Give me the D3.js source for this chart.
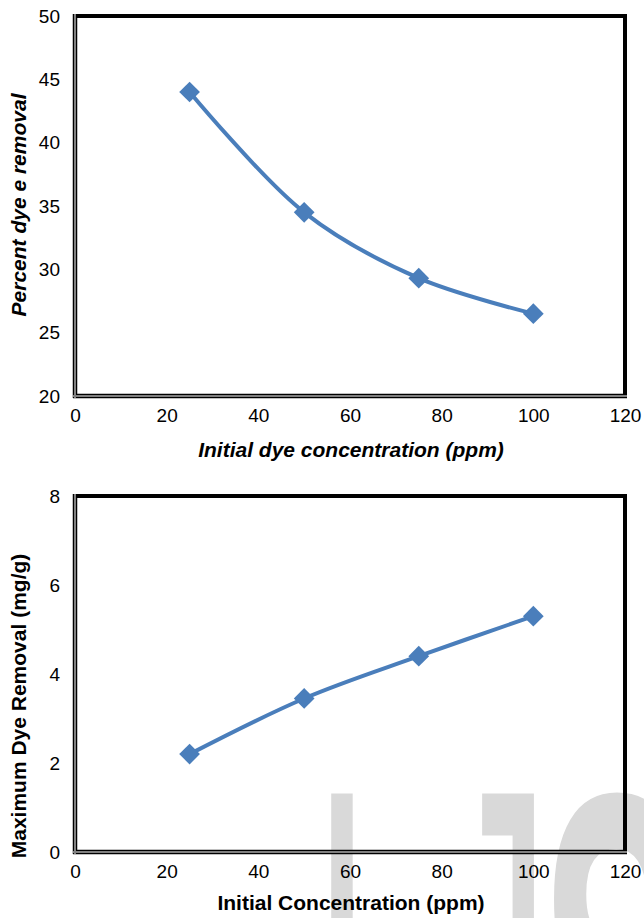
<!DOCTYPE html>
<html>
<head>
<meta charset="utf-8">
<script src="https://cdn.jsdelivr.net/npm/d3@7"></script>
<style>
  html, body { margin: 0; padding: 0; background: #fff; }
  svg { display: block; font-family: "Liberation Sans", Arial, sans-serif; }
</style>
</head>
<body>
<svg id="fig" width="644" height="918"></svg>
<script>
// Initial dye concentration (ppm)
const concentrations = [25, 50, 75, 100];
// Percent dye removal at each concentration
const percentRemoval = [44.0, 34.5, 29.3, 26.5];
// Maximum dye removal (mg/g) at each concentration
const maxRemoval = [2.2, 3.45, 4.4, 5.3];

const xTicks = [0, 20, 40, 60, 80, 100, 120];
const yTicksTop = [20, 25, 30, 35, 40, 45, 50];
const yTicksBottom = [0, 2, 4, 6, 8];

const svg = d3.select("#fig");
const BLUE = "#4a7ebb";

// Tall light-grey watermark letters behind the lower chart
const wm = svg.append("g").attr("fill", "#d9d9d9")
  .attr("font-family", "Liberation Sans, Arial, sans-serif")
  .attr("font-size", 230)
  .attr("transform", "translate(0,794) scale(1,2.4)");
wm.append("text").attr("x", 310).attr("y", 158).text("I");
wm.append("text").attr("x", 436).attr("y", 158).text("J");
wm.append("text").attr("x", 540).attr("y", 160).attr("font-weight", "bold").text("S");

function drawChart(opt) {
  const { left, right, top, bottom, xDomain, yDomain, yTicks, values,
          xTitle, yTitle, italic, yTitleCenter, xTitleGap } = opt;
  const x = d3.scaleLinear().domain(xDomain).range([left, right]);
  const y = d3.scaleLinear().domain(yDomain).range([bottom, top]);
  const g = svg.append("g");

  // Frame: heavy black top/right, shadowed left/bottom axes
  g.append("line").attr("x1", left - 2).attr("x2", right + 2)
    .attr("y1", top).attr("y2", top)
    .attr("stroke", "#000").attr("stroke-width", 4);
  g.append("line").attr("x1", right).attr("x2", right)
    .attr("y1", top - 2).attr("y2", bottom + 2)
    .attr("stroke", "#000").attr("stroke-width", 4);
  [["#000", 4.5], ["#808080", 2]].forEach(([c, w]) => {
    g.append("line").attr("x1", left).attr("x2", left)
      .attr("y1", top - 2).attr("y2", bottom + 2)
      .attr("stroke", c).attr("stroke-width", w);
    g.append("line").attr("x1", left - 2).attr("x2", right + 2)
      .attr("y1", bottom).attr("y2", bottom)
      .attr("stroke", c).attr("stroke-width", w);
  });

  // Axes (labels only, no tick marks)
  const xAxis = g.append("g").attr("transform", `translate(0,${bottom})`)
    .call(d3.axisBottom(x).tickValues(xTicks).tickSize(0).tickPadding(13));
  xAxis.select(".domain").remove();
  xAxis.selectAll("text").attr("font-size", 19).attr("fill", "#000")
    .attr("font-family", "Liberation Sans, Arial, sans-serif");

  const yAxis = g.append("g").attr("transform", `translate(${left},0)`)
    .call(d3.axisLeft(y).tickValues(yTicks).tickSize(0).tickPadding(15));
  yAxis.select(".domain").remove();
  yAxis.selectAll("text").attr("font-size", 19).attr("fill", "#000")
    .attr("font-family", "Liberation Sans, Arial, sans-serif");

  // Smoothed series line
  const pts = concentrations.map((c, i) => [c, values[i]]);
  g.append("path").datum(pts)
    .attr("fill", "none").attr("stroke", BLUE).attr("stroke-width", 4)
    .attr("d", d3.line().x(d => x(d[0])).y(d => y(d[1]))
      .curve(d3.curveCatmullRom.alpha(0.5)));

  // Diamond markers
  g.selectAll(".mk").data(pts).enter().append("path")
    .attr("class", "mk")
    .attr("d", d3.symbol(d3.symbolSquare, 215)())
    .attr("fill", BLUE)
    .attr("transform", d => `translate(${x(d[0])},${y(d[1])}) rotate(45)`);

  // Axis titles
  g.append("text").attr("x", (left + right) / 2 + 1).attr("y", bottom + xTitleGap)
    .attr("text-anchor", "middle").attr("font-size", 21)
    .attr("font-weight", "bold").attr("font-style", italic ? "italic" : "normal")
    .text(xTitle);
  g.append("text")
    .attr("transform", `translate(26,${yTitleCenter}) rotate(-90)`)
    .attr("text-anchor", "middle").attr("font-size", 21)
    .attr("font-weight", "bold").attr("font-style", italic ? "italic" : "normal")
    .text(yTitle);
}

drawChart({
  left: 75, right: 625, top: 16, bottom: 396,
  xDomain: [0, 120], yDomain: [20, 50], yTicks: yTicksTop,
  values: percentRemoval,
  xTitle: "Initial dye concentration (ppm)",
  yTitle: "Percent dye e removal",
  italic: true, yTitleCenter: 205, xTitleGap: 61
});

drawChart({
  left: 75, right: 625, top: 496, bottom: 852,
  xDomain: [0, 120], yDomain: [0, 8], yTicks: yTicksBottom,
  values: maxRemoval,
  xTitle: "Initial Concentration  (ppm)",
  yTitle: "Maximum Dye Removal (mg/g)",
  italic: false, yTitleCenter: 706, xTitleGap: 58
});
</script>
</body>
</html>
